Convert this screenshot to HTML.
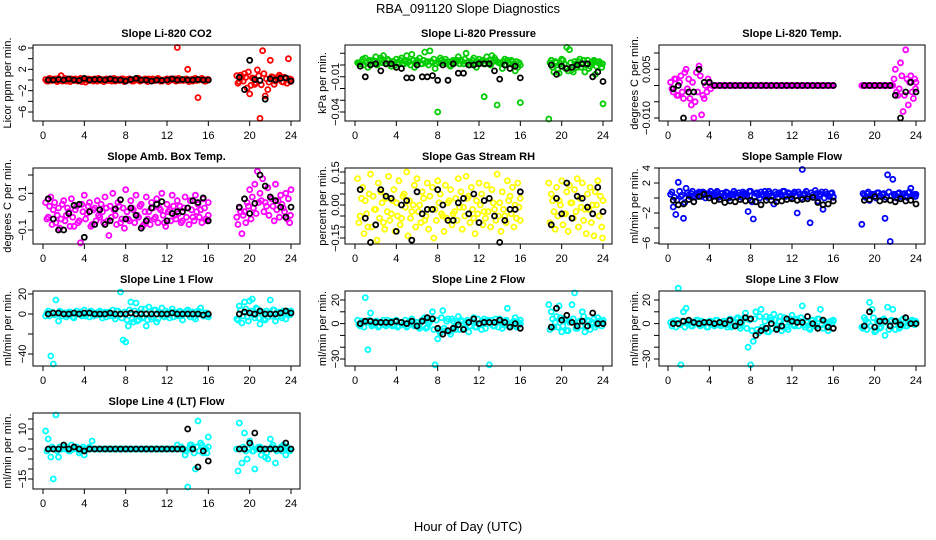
<!DOCTYPE html>
<html><head><meta charset="utf-8"><style>
html,body{margin:0;padding:0;background:#fff;}
svg{display:block;font-family:"Liberation Sans",sans-serif;}
</style></head><body>
<svg id="chart" width="936" height="540" viewBox="0 0 936 540">
<text x="468" y="13" text-anchor="middle" font-size="13">RBA_091120  Slope Diagnostics</text>
<text x="468" y="531" text-anchor="middle" font-size="13">Hour of Day (UTC)</text>
</svg>
<script>
const T = [0.25,0.5,0.75,1,1.25,1.5,1.75,2,2.25,2.5,2.75,3,3.25,3.5,3.75,4,4.25,4.5,4.75,5,5.25,5.5,5.75,6,6.25,6.5,6.75,7,7.25,7.5,7.75,8,8.25,8.5,8.75,9,9.25,9.5,9.75,10,10.25,10.5,10.75,11,11.25,11.5,11.75,12,12.25,12.5,12.75,13,13.25,13.5,13.75,14,14.25,14.5,14.75,15,15.25,15.5,15.75,16,
18.75,19,19.25,19.5,19.75,20,20.25,20.5,20.75,21,21.25,21.5,21.75,22,22.25,22.5,22.75,23,23.25,23.5,23.75,24];
const T2 = [0.375,0.625,0.875,1.125,1.375,1.625,1.875,2.125,2.375,2.625,2.875,3.125,3.375,3.625,3.875,4.125,4.375,4.625,4.875,5.125,5.375,5.625,5.875,6.125,6.375,6.625,6.875,7.125,7.375,7.625,7.875,8.125,8.375,8.625,8.875,9.125,9.375,9.625,9.875,10.125,10.375,10.625,10.875,11.125,11.375,11.625,11.875,12.125,12.375,12.625,12.875,13.125,13.375,13.625,13.875,14.125,14.375,14.625,14.875,15.125,15.375,15.625,15.875,16.0,
18.875,19.125,19.375,19.625,19.875,20.125,20.375,20.625,20.875,21.125,21.375,21.625,21.875,22.125,22.375,22.625,22.875,23.125,23.375,23.625,23.875,23.95];
const TB = [0.5,1,1.5,2,2.5,3,3.5,4,4.5,5,5.5,6,6.5,7,7.5,8,8.5,9,9.5,10,10.5,11,11.5,12,12.5,13,13.5,14,14.5,15,15.5,16,19,19.5,20,20.5,21,21.5,22,22.5,23,23.5,24];
const xTicks = [0,4,8,12,16,20,24];

const co2 = [0.1,-0.2,0.2,0,-0.1,0.3,0.8,0.1,-0.2,0,0.2,-0.1,0,0.1,-0.3,0.2,0,-0.1,0.1,0.2,-0.2,0,0.1,0,-0.1,0.2,0,-0.2,0.1,0,0.2,-0.1,0,0.1,-0.2,0,0.3,-0.1,0,0.1,0.2,0,-0.1,0,0.1,-0.2,0,0.2,0.1,0,0.2,6.1,-0.1,0,0.1,2.0,0,-0.2,0.3,-3.3,0.1,0,-0.2,0.1,
0.8,-0.3,0.5,1.2,-1.5,-2.6,0.4,-0.8,1.9,-7.2,5.5,-3.0,-1.8,3.7,0.5,-0.2,0.3,0.6,-0.4,0.2,4.0,0.1];
const co2b = [-0.2,0.3,-0.1,0.2,-0.3,0.1,-0.2,0.3,0,-0.3,0.1,0.2,-0.2,0.3,0.1,-0.4,0.2,0.1,-0.2,0,0.3,-0.1,-0.3,0.2,0.1,-0.2,0.3,0,-0.1,0.2,-0.3,0.1,0.2,-0.2,0.1,0.3,-0.2,0,0.2,-0.3,0.1,0.2,-0.1,0.3,-0.2,0,0.1,-0.3,0.2,0.1,-0.2,0.3,0,-0.1,0.2,-0.3,0.1,0.2,-0.1,0,0.3,-0.2,0.1,0,
-0.6,0.9,-0.2,0.5,1.5,-1.0,0.3,-0.5,0.8,-0.9,1.2,0.2,-0.4,0.6,-0.8,0.4,0.9,-0.3,0.5,-0.6,0.2,-0.3];
const co2B = [0,0,0.1,0,0.2,0,-0.1,0.3,0,0.1,0.1,0,0.2,0,0,-0.2,0.1,0.3,0,0,-0.2,0,-0.1,0,0.2,0,0.1,0,0,0.1,0,0,0.5,-1.8,3.7,0.1,-0.1,-3.6,0.2,0,0.3,0.4,-0.2];

const pres = [0.002,0.001,0.005,0.006,-0.002,0.003,0.004,0.007,0.002,0.006,0.008,0.001,0.004,-0.001,0.003,0.005,0.002,0.006,0.001,0.008,0.003,0.009,-0.002,0.004,0.006,0.001,0.011,0.003,0.012,0.002,-0.003,-0.04,0.006,0.002,0.005,0.003,-0.001,0.004,0.002,0.007,0.004,0.001,0.010,0.003,0.002,0.006,-0.002,0.005,0.003,-0.027,0.007,0.004,0.008,0.006,-0.034,0.002,-0.003,0.005,0.004,0.001,0.003,-0.005,-0.002,-0.032,
-0.046,0.004,-0.006,0.002,-0.007,0.005,0.001,0.015,0.013,-0.004,0.003,-0.002,0.005,0.001,-0.006,0.004,-0.001,0.003,-0.008,0.002,0.001,-0.033];
const pres2 = [0.001,0.003,0.000,0.002,0.004,0.001,0.003,0.000,0.004,0.002,0.003,0.005,0.001,0.003,0.000,0.002,0.004,0.001,0.003,0.002,0.000,0.004,0.002,0.003,0.001,0.004,0.002,0.000,0.003,0.005,0.001,0.002,0.004,0.003,0.001,0.000,0.003,0.002,0.004,0.001,0.003,0.005,0.002,0.000,0.004,0.001,0.003,0.002,0.004,0.001,0.002,0.000,0.003,0.004,0.002,0.001,0.003,0.000,0.002,0.004,0.001,0.003,0.002,0.000,
0.002,-0.002,0.003,-0.004,0.001,0.004,-0.003,-0.005,0.002,-0.006,0.001,0.003,-0.002,0.004,0.000,-0.003,0.002,0.004,-0.001,0.003,-0.002,0.001];
const presB = [-0.001,-0.010,0,0.001,-0.005,0.001,0.001,-0.002,-0.003,-0.011,-0.011,0,-0.010,-0.010,-0.009,-0.013,0,-0.013,0.001,-0.007,-0.007,0,0,0.001,0.001,0.001,-0.005,-0.012,0,-0.003,-0.001,-0.011,0,-0.008,-0.001,-0.003,-0.002,0,0.001,0.001,-0.010,-0.006,-0.014];

const ltemp = [0.001,-0.002,0.002,-0.003,0.003,-0.004,0.005,0.002,-0.006,-0.010,0.004,0.006,-0.009,-0.004,-0.002,0.001,0,0,0,0,0,0,0,0,0,0,0,0,0,0,0,0,0,0,0,0,0,0,0,0,0,0,0,0,0,0,0,0,0,0,0,0,0,0,0,0,0,0,0,0,0,0,0,0,
0,0,0,0,0,0,0,0,0,0,0,0,0,0.005,-0.003,0.007,-0.008,0.011,-0.006,0.003,-0.004,0.001];
const ltemp2 = [-0.001,0.002,-0.003,0.001,-0.002,0.004,-0.001,-0.004,0.001,-0.005,-0.002,0.003,-0.003,0.000,0.002,-0.001,0,0,0,0,0,0,0,0,0,0,0,0,0,0,0,0,0,0,0,0,0,0,0,0,0,0,0,0,0,0,0,0,0,0,0,0,0,0,0,0,0,0,0,0,0,0,0,0,
0,0,0,0,0,0,0,0,0,0,0,0,0.002,-0.002,-0.001,0.003,-0.003,0.002,0.001,-0.002,0.002,-0.001];
const ltempB = [-0.001,0,-0.010,-0.002,-0.002,0.005,0.001,0.001,0,0,0,0,0,0,0,0,0,0,0,0,0,0,0,0,0,0,0,0,0,0,0,0,0,0,0,0,0,0,-0.003,-0.010,-0.002,0.001,-0.002];

const amb = [0.05,-0.03,0.08,0.01,-0.06,0.02,-0.04,0.06,-0.02,0.00,0.07,-0.08,0.03,-0.05,0.04,0.09,-0.01,0.05,-0.07,0.02,0.06,-0.03,0.00,0.08,-0.05,0.03,0.10,-0.02,0.05,-0.06,0.02,0.12,-0.04,0.06,0.01,0.09,-0.03,0.04,-0.07,0.08,0.00,0.05,-0.04,0.07,0.02,0.10,-0.06,0.04,0.01,0.09,-0.02,0.06,0.03,-0.05,0.08,0.02,0.06,-0.03,0.09,0.04,0.01,0.07,-0.04,0.05,
-0.03,0.02,-0.12,0.00,0.05,0.12,0.08,0.15,0.22,0.10,0.18,0.05,0.13,0.08,0.03,0.15,0.06,0.09,0.02,0.10,0.07,0.12];
const amb2 = [-0.04,0.03,-0.07,0.05,-0.02,-0.09,0.04,-0.05,0.02,-0.08,-0.03,0.01,-0.06,-0.17,0.00,-0.04,0.03,-0.08,0.01,-0.05,-0.02,0.04,-0.06,0.02,-0.13,-0.03,0.01,-0.07,0.03,-0.04,-0.09,0.00,-0.05,0.02,-0.06,-0.02,0.03,-0.08,0.00,-0.04,-0.07,0.02,-0.03,-0.06,0.01,-0.02,-0.08,0.00,-0.05,0.03,-0.04,-0.01,-0.06,0.02,-0.03,-0.07,0.01,-0.05,0.00,-0.03,-0.06,0.02,-0.05,-0.02,
-0.07,0.00,-0.02,-0.06,0.03,-0.04,0.02,-0.01,0.05,0.06,0.00,0.03,-0.02,0.07,-0.05,0.01,-0.03,0.04,0.00,-0.04,-0.06,-0.02];
const ambB = [0.07,-0.04,-0.10,-0.10,-0.01,0.035,0.04,-0.14,0.00,-0.07,0.01,-0.07,-0.05,0.015,0.065,-0.04,0.02,-0.02,-0.09,-0.05,0.02,0.04,0.055,-0.05,-0.01,0.00,0.00,0.02,0.06,0.05,0.075,-0.05,0.025,0.07,-0.01,0.045,0.2,0.14,0.08,0.06,0.025,-0.03,0.025];

const rh = [0.12,-0.05,0.08,0.02,-0.10,0.14,0.04,-0.02,0.10,0.06,-0.08,0.03,0.13,-0.04,0.07,0.01,0.11,-0.06,0.05,0.15,0.02,-0.03,0.09,0.12,0.00,0.06,-0.07,0.10,0.04,0.08,-0.02,0.11,0.05,-0.05,0.09,0.01,0.07,-0.04,0.03,0.12,0.06,-0.01,0.13,0.04,0.08,-0.06,0.02,0.10,0.05,-0.03,0.09,0.03,0.07,-0.02,0.14,0.01,0.06,-0.05,0.11,0.04,0.08,0.00,0.10,0.03,
0.10,0.05,-0.03,0.08,0.02,0.11,-0.04,0.06,0.09,0.01,0.07,0.12,0.03,0.10,-0.02,0.05,0.08,0.00,0.06,0.11,0.04,0.02];
const rh2 = [-0.08,0.03,-0.13,-0.04,0.05,-0.10,-0.02,-0.16,-0.06,0.01,-0.11,-0.03,-0.07,0.02,-0.12,-0.05,-0.09,0.04,-0.01,-0.14,-0.06,0.00,-0.10,-0.03,-0.08,0.03,-0.05,-0.11,-0.02,-0.15,-0.07,0.01,-0.04,-0.12,-0.06,0.02,-0.09,-0.03,-0.07,-0.01,-0.11,-0.05,0.03,-0.08,-0.02,-0.13,-0.04,0.00,-0.09,-0.06,-0.03,-0.10,0.01,-0.07,-0.05,-0.12,-0.02,-0.08,0.02,-0.04,-0.10,-0.06,-0.01,-0.07,
-0.08,0.02,-0.11,-0.05,0.00,-0.09,-0.04,-0.12,0.01,-0.06,-0.03,-0.10,-0.01,-0.07,-0.13,-0.02,-0.08,-0.14,0.00,-0.05,-0.10,-0.15];
const rhB = [0.07,-0.06,-0.17,-0.09,0.07,0.04,0.03,-0.12,0.00,0.02,-0.16,0.06,-0.04,-0.02,-0.02,0.07,0.00,-0.07,-0.07,0.01,0.03,-0.04,0.05,-0.08,0.02,0.03,-0.05,-0.17,-0.07,-0.02,-0.02,0.06,-0.09,0.03,-0.04,0.10,-0.06,0.04,0.03,-0.01,-0.04,0.08,-0.03];

const sflow = [0.5,-1.2,-2.2,2.1,0.2,-2.7,1.3,0.4,0.6,0.3,0.5,0.8,0.2,0.7,0.4,0.6,0.3,0.5,0.9,0.2,0.6,0.4,0.7,0.3,0.5,0.6,0.2,0.4,0.8,0.5,-1.8,0.9,-2.8,0.6,0.4,0.8,0.3,0.5,0.9,0.2,-0.8,0.5,0.7,0.4,0.9,0.3,0.6,0.4,0.8,-2.0,0.5,3.8,0.6,0.2,-3.3,0.4,1.0,-0.4,0.5,-1.5,0.8,0.3,0.6,0.2,
-3.5,0.4,0.6,-0.3,0.5,0.2,0.7,0.3,0.5,-2.7,3.1,-5.8,2.5,0.4,0.6,0.2,0.5,0.3,0.7,1.3,0.4,0.5];
const sflow2 = [0.8,0.1,-0.3,0.9,0.4,-0.6,0.7,0.2,0.9,0.1,0.6,0.3,0.8,0.0,0.5,0.9,0.2,0.7,0.1,0.6,0.3,0.8,0.0,0.5,0.9,0.2,0.7,0.1,0.6,0.3,0.9,-0.5,0.2,0.7,0.0,0.5,0.9,0.1,0.6,0.3,0.8,0.0,0.5,0.9,0.2,0.7,0.1,0.6,0.3,0.8,0.0,0.5,0.9,0.2,0.7,0.1,0.6,0.3,0.8,0.0,0.5,0.2,0.7,0.1,
0.6,0.1,0.8,0.3,0.5,0.0,0.7,0.2,0.6,0.1,0.8,0.3,0.5,0.0,0.7,0.2,0.6,0.1,0.8,0.3,0.5,0.2];
const sflowB = [-0.3,-0.9,-0.8,-0.2,-0.5,0.2,0.5,0.0,-0.4,-0.2,-0.6,-0.4,-0.5,-0.2,-0.4,-0.3,-0.5,-0.9,-0.3,-0.3,-0.5,-0.4,-0.2,-0.1,-0.3,-0.2,-0.1,0.1,-0.6,-0.9,-0.8,-0.4,-0.3,-0.2,0.2,-0.4,-0.2,-0.3,-0.5,-0.1,-0.4,-0.3,-0.8];

const line1 = [-2,3,-42,-50,14,-7,2,1,-3,2,0,-4,3,1,-2,4,0,-3,2,1,-1,3,-4,2,1,-2,4,-5,3,22,-26,-28,-12,12,-8,11,-6,5,-3,-12,7,-5,4,-8,2,6,-3,1,-4,5,2,-2,3,-6,1,4,-3,2,-5,3,6,-2,1,-3,
-5,8,-9,12,-3,13,15,-4,5,-10,2,-6,-3,14,4,-7,1,-2,3,-5,2,3];
const line1b = [1,-2,2,-1,0,3,-2,1,-1,2,-3,1,0,2,-1,-2,1,3,-2,0,2,-1,1,-3,2,0,-2,3,-1,-4,2,-6,4,-5,3,-7,1,-4,5,-6,2,-3,4,-5,1,-2,3,-1,2,-3,1,2,-2,0,3,-1,2,-3,1,0,2,-2,1,-1,
-6,4,-2,5,-7,3,-1,6,-4,2,-5,3,1,-2,4,-3,2,-4,1,3,-1,0];
const line1B = [0,1,1,0,0,1,0,1,1,0,0,0,1,0,0,0,1,0,0,0,0,0,0,0,1,0,0,0,0,0,-1,0,0,2,1,0,3,0,0,0,1,3,1];

const line2 = [3,-2,1,22,-22,9,-1,2,-3,1,3,-2,0,2,-1,3,-2,1,0,-3,2,4,-2,1,-4,3,5,-3,2,10,-35,-13,-8,11,-6,4,-9,2,-5,6,3,-4,1,-7,2,5,-3,0,-5,4,2,-35,3,-2,1,4,-4,2,13,-3,1,5,-2,3,
16,10,-3,6,15,-7,4,-6,1,16,26,-4,2,10,-7,3,-5,1,-3,5,2,3];
const line2b = [-1,2,-3,1,3,-2,0,2,-2,1,-1,3,0,-2,2,-3,1,-1,3,-2,0,2,-1,-3,1,3,-4,0,4,-5,3,-6,5,-4,2,-7,4,-3,1,-5,2,-4,3,-2,1,-3,4,-1,2,-4,3,0,-2,4,-3,1,-1,3,-2,0,2,-3,1,0,
-5,4,1,-3,5,-2,3,-6,2,4,-4,1,-2,6,-3,2,0,4,-1,2,-2,1];
const line2B = [0,2,2,1,1,1,1,2,1,0,2,-2,2,5,4,-4,-9,-6,-4,-1,-5,1,4,0,1,1,1,3,1,-3,0,-4,-3,13,3,7,1,-2,2,-2,9,0,0];

const line3 = [1,2,-3,30,-35,10,13,1,-2,0,3,-1,2,1,-3,2,0,-2,3,-1,1,2,-3,4,-2,1,5,-4,3,9,-20,-35,-15,10,-8,12,-5,6,-7,3,8,-4,2,-6,5,-3,1,7,-2,4,2,15,-3,1,-5,3,-2,4,12,-4,1,-6,2,3,
-3,5,-5,18,12,-7,2,-4,3,-10,14,2,12,-5,1,-3,4,-2,1,2,0,1];
const line3b = [-2,1,3,-1,2,-3,0,2,-2,1,3,-2,0,1,-3,2,-1,3,0,-2,2,-1,3,-3,1,4,-2,0,5,-4,3,-6,4,-5,6,-3,2,-7,5,-4,3,-2,6,-3,1,-5,4,-1,3,-2,5,-1,2,-4,3,0,-2,4,-1,2,-3,1,0,2,
-4,3,1,-2,5,-6,2,-3,4,1,-5,3,-1,2,-4,3,0,-2,1,3,-1,2];
const line3B = [0,0,2,3,1,0,1,1,0,1,0,3,-2,1,5,4,-10,-6,-4,0,-5,-2,4,2,1,1,6,0,-4,3,-3,-4,-2,10,-3,2,2,-2,2,-1,5,0,0];

const line4 = [9,5,-4,-15,17,-4,0,1,0,-1,2,0,1,-2,0,-3,0,1,4,0,0,0,0,0,0,0,0,0,0,0,0,0,0,0,0,0,0,0,0,0,0,0,0,0,0,0,0,0,0,0,0,2,0,0,-3,-19,2,1,-10,14,3,-2,0,6,
0,13,-7,8,-5,4,-1,-10,0,1,0,-4,-5,5,2,-7,0,1,2,-3,0,0];
const line4b = [-1,0,1,0,-1,1,0,0,1,-1,0,1,0,-1,1,0,0,0,0,0,0,0,0,0,0,0,0,0,0,0,0,0,0,0,0,0,0,0,0,0,0,0,0,0,0,0,0,0,0,0,0,0,1,0,-1,0,2,-2,1,-1,2,0,-2,1,
-11,0,1,-1,0,2,-1,0,1,-3,0,-2,0,1,0,-1,0,-1,0,1,-1,0];
const line4B = [0,0,0,2,0,1,0,-1,0,0,0,0,0,0,0,0,0,0,0,0,0,0,0,0,0,0,0,10,0,-9,-1,-6,0,0,3,8,0,0,0,0,0,3,0];

const tk1=[6,4,2,0,-2,-4,-6], lb1=["6","","2","","−2","","−6"];
const tk2=[0.01,0,-0.01,-0.02,-0.03,-0.04], lb2=["","","−0.01","","","−0.04"];
const tk3=[0.01,0.005,0,-0.005,-0.01], lb3=["","0.005","","","−0.010"];
const tk4=[0.2,0.1,0,-0.1], lb4=["","0.1","","−0.1"];
const tk5=[0.15,0.1,0.05,0,-0.05,-0.1,-0.15], lb5=["0.15","","","0.00","","","−0.15"];
const tk6=[4,2,0,-2,-4,-6], lb6=["4","2","","−2","","−6"];
const tk7=[20,0,-20,-40], lb7=["20","0","","−40"];
const tk8=[20,10,0,-10,-20,-30], lb8=["20","","0","","","−30"];
const tk10=[15,10,5,0,-5,-10,-15], lb10=["","10","","0","","","−15"];

const NS="http://www.w3.org/2000/svg";
const svg=document.getElementById('chart');
function mk(tag,attrs,parent){const e=document.createElementNS(NS,tag);for(const k in attrs)e.setAttribute(k,attrs[k]);(parent||svg).appendChild(e);return e;}

const cols=[{x0:43,x24:291,L:33,R:300,lab:8,tl:23},{x0:355,x24:603,L:345,R:612,lab:323,tl:336},{x0:668,x24:916,L:659,R:925,lab:635,tl:647}];
const rows=[{T:45,B:121},{T:168,B:244},{T:291,B:366},{T:413,B:489}];

const panels=[
 {name:"co2",title:"Slope Li-820 CO2",yl:"Licor ppm per min.",c:0,r:0,col:"#ff0000",a:[6,48],b:[-6,112],tk:tk1,lb:lb1,s:[[co2,T],[co2b,T2]],k:co2B},
 {name:"pressure",title:"Slope Li-820 Pressure",yl:"kPa per min.",c:1,r:0,col:"#00cd00",a:[0,65],b:[-0.04,112],tk:tk2,lb:lb2,s:[[pres,T],[pres2,T2]],k:presB},
 {name:"licor-temp",title:"Slope Li-820 Temp.",yl:"degrees C per min.",c:2,r:0,col:"#ff00ff",a:[0.01,53],b:[-0.01,118],tk:tk3,lb:lb3,s:[[ltemp,T],[ltemp2,T2]],k:ltempB},
 {name:"amb-box-temp",title:"Slope Amb. Box Temp.",yl:"degrees C per min.",c:0,r:1,col:"#ff00ff",a:[0.2,175],b:[-0.1,230],tk:tk4,lb:lb4,s:[[amb,T],[amb2,T2]],k:ambB},
 {name:"gas-stream-rh",title:"Slope Gas Stream RH",yl:"percent per min.",c:1,r:1,col:"#ffff00",a:[0.15,172],b:[-0.15,238],tk:tk5,lb:lb5,s:[[rh,T],[rh2,T2]],k:rhB},
 {name:"sample-flow",title:"Slope Sample Flow",yl:"ml/min per min.",c:2,r:1,col:"#0000ff",a:[4,168],b:[-6,243],tk:tk6,lb:lb6,s:[[sflow,T],[sflow2,T2]],k:sflowB},
 {name:"line1-flow",title:"Slope Line 1 Flow",yl:"ml/min per min.",c:0,r:2,col:"#00ffff",a:[20,294],b:[-40,354],tk:tk7,lb:lb7,s:[[line1,T],[line1b,T2]],k:line1B},
 {name:"line2-flow",title:"Slope Line 2 Flow",yl:"ml/min per min.",c:1,r:2,col:"#00ffff",a:[20,300],b:[-30,359],tk:tk8,lb:lb8,s:[[line2,T],[line2b,T2]],k:line2B},
 {name:"line3-flow",title:"Slope Line 3 Flow",yl:"ml/min per min.",c:2,r:2,col:"#00ffff",a:[20,300],b:[-30,359],tk:tk8,lb:lb8,s:[[line3,T],[line3b,T2]],k:line3B},
 {name:"line4-flow",title:"Slope Line 4 (LT) Flow",yl:"ml/min per min.",c:0,r:3,col:"#00ffff",a:[10,429],b:[-15,479],tk:tk10,lb:lb10,s:[[line4,T],[line4b,T2]],k:line4B}
];

panels.forEach(p=>{
  const C=cols[p.c],R=rows[p.r];
  const g=mk('g',{});
  
  
  const xs=h=>C.x0+(C.x24-C.x0)*h/24;
  const ys=v=>p.a[1]+(p.b[1]-p.a[1])*(v-p.a[0])/(p.b[0]-p.a[0]);
  const t=mk('text',{x:(C.L+C.R)/2,y:R.T-8,'text-anchor':'middle','font-size':11,'font-weight':'bold'},g);
  t.textContent=p.title;
  
  
  const yl=mk('text',{x:C.lab,y:(R.T+R.B)/2,'text-anchor':'middle','font-size':11,transform:`rotate(-90 ${C.lab} ${(R.T+R.B)/2})`,'dominant-baseline':'central'},g);
  yl.textContent=p.yl;
  
  
  const pts=mk('g',{},g);
  p.s.forEach(([arr,tt])=>arr.forEach((v,i)=>{
    const c=mk('circle',{cx:xs(tt[i]).toFixed(1),cy:ys(v).toFixed(1),r:2.5,fill:'none',stroke:p.col,'stroke-width':1.8},pts);
    
    
  }));
  p.k.forEach((v,i)=>{
    const c=mk('circle',{cx:xs(TB[i]).toFixed(1),cy:ys(v).toFixed(1),r:2.5,fill:'none',stroke:'#000','stroke-width':1.8},pts);
    
    
  });
  const box=mk('rect',{x:C.L,y:R.T,width:C.R-C.L,height:R.B-R.T,fill:'none',stroke:'#000','stroke-width':1},g);
  
  
  xTicks.forEach(h=>{
    const x=xs(h);
    mk('line',{x1:x,x2:x,y1:R.B,y2:R.B+5,stroke:'#000'},g);
    const tl=mk('text',{x:x,y:R.B+18,'text-anchor':'middle','font-size':11},g);
    tl.textContent=h;
    
    
  });
  p.tk.forEach((v,i)=>{
    const y=ys(v);
    mk('line',{x1:C.L-5,x2:C.L,y1:y,y2:y,stroke:'#000'},g);
    if(p.lb[i]){
      const tl=mk('text',{x:C.tl,y:y,'text-anchor':'middle','font-size':11,'dominant-baseline':'central',transform:`rotate(-90 ${C.tl} ${y})`},g);
      tl.textContent=p.lb[i];
      
      
    }
  });
});
</script>
</body></html>
